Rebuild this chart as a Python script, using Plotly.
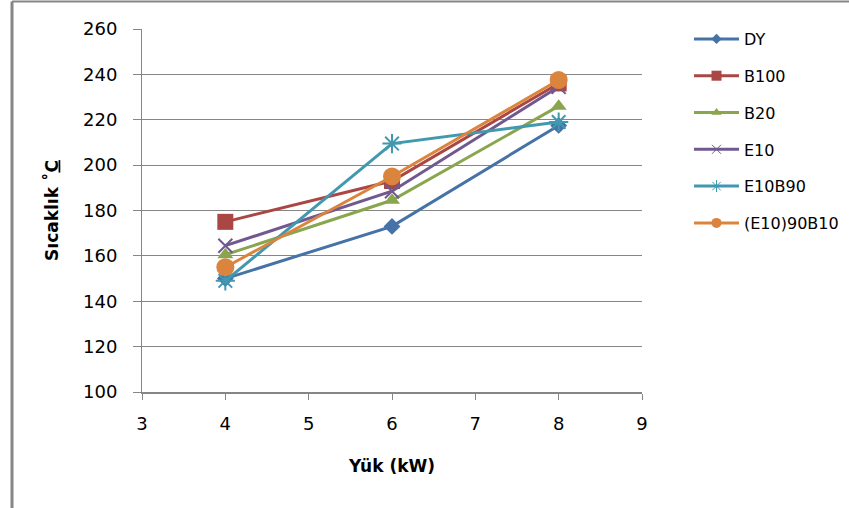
import plotly.graph_objects as go

# Load (kW) and temperature readings per fuel blend
load_kw = [4, 6, 8]
series_names = ["DY", "B100", "B20", "E10", "E10B90", "(E10)90B10"]
dy = [150, 173, 217.5]
b100 = [175, 193, 236]
b20 = [160.5, 184.5, 226]
e10 = [164.5, 188.5, 234.5]
e10b90 = [149, 209.5, 219]
e10_90b10 = [155, 195, 237.5]

y_ticks = [100, 120, 140, 160, 180, 200, 220, 240, 260]
x_ticks = [3, 4, 5, 6, 7, 8, 9]

series_values = [dy, b100, b20, e10, e10b90, e10_90b10]
colors = ["#4572A7", "#AA4643", "#89A54E", "#71588F", "#4198AF", "#DB843D"]
symbols = ["diamond", "square", "triangle-up", "x-thin", "asterisk", "circle"]
sizes = [13, 16, 14, 14, 16, 18]
legend_sizes = [8, 10, 9, 9, 10, 10]

fig = go.Figure()
for i, (name, vals) in enumerate(zip(series_names, series_values)):
    open_sym = symbols[i] in ("x-thin", "asterisk")
    fig.add_trace(go.Scatter(
        x=load_kw, y=vals, name=name, mode="lines+markers",
        legendgroup=name, showlegend=False,
        line=dict(color=colors[i], width=3),
        marker=dict(symbol=symbols[i], size=sizes[i], color=colors[i],
                    line=dict(color=colors[i], width=2 if open_sym else 0)),
    ))

# Legend entries with smaller symbols
for i, name in enumerate(series_names):
    open_sym = symbols[i] in ("x-thin", "asterisk")
    fig.add_trace(go.Scatter(
        x=[None], y=[None], name=name, mode="lines+markers",
        legendgroup=name, showlegend=True,
        line=dict(color=colors[i], width=3),
        marker=dict(symbol=symbols[i], size=legend_sizes[i], color=colors[i],
                    line=dict(color=colors[i], width=1 if open_sym else 0)),
    ))

L, R, T, B = 142, 207, 29, 116
W, H = 849, 508
pw, ph = W - L - R, H - T - B

fig.update_layout(
    width=W, height=H,
    margin=dict(l=L, r=R, t=T, b=B, autoexpand=False),
    paper_bgcolor="white", plot_bgcolor="white",
    font=dict(family="DejaVu Sans", color="#000000"),
    showlegend=True,
    legend=dict(
        x=(689 - L) / pw, y=1 + (T - 22) / ph, xanchor="left", yanchor="top",
        font=dict(size=16, family="DejaVu Sans"),
        tracegroupgap=13, itemwidth=45,
        bgcolor="rgba(0,0,0,0)",
    ),
    xaxis=dict(
        range=[3, 9], tickvals=x_ticks, ticks="outside", ticklen=6,
        tickcolor="#868686", showline=True, linecolor="#868686", linewidth=2,
        showgrid=False, zeroline=False, ticklabelstandoff=8,
        tickfont=dict(size=18, family="DejaVu Sans"),
        title=dict(text="<b>Yük (kW)</b>", font=dict(size=17), standoff=28),
    ),
    yaxis=dict(
        range=[100, 260], tickvals=y_ticks, ticks="outside", ticklen=8,
        tickcolor="#868686", showline=True, linecolor="#868686", linewidth=1,
        showgrid=True, gridcolor="#868686", gridwidth=1, zeroline=False,
        ticklabelstandoff=12,
        tickfont=dict(size=18, family="DejaVu Sans"),
        title=dict(text="<b>Sıcaklık ˚<u>C</u></b>", font=dict(size=17), standoff=20),
    ),
)

# Chart frame: left and top edges
fig.add_shape(type="line", xref="paper", yref="paper",
              x0=(12 - L) / pw, x1=(12 - L) / pw, y0=-(B) / ph, y1=1 + (T - 1.5) / ph,
              line=dict(color="#868686", width=3))
fig.add_shape(type="line", xref="paper", yref="paper",
              x0=(12 - L) / pw, x1=(W - L) / pw, y0=1 + (T - 1.5) / ph, y1=1 + (T - 1.5) / ph,
              line=dict(color="#868686", width=2))

fig.write_html("out.html")
